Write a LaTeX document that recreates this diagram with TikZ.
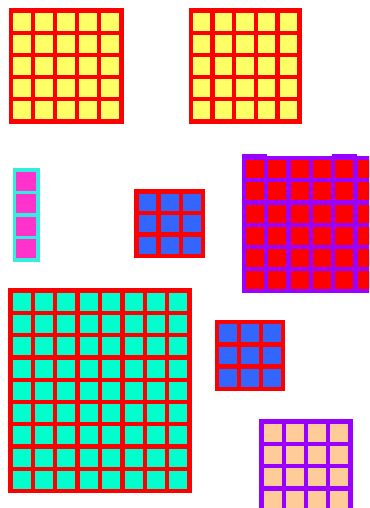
\documentclass[tikz,border=0pt]{standalone}
\definecolor{bred}{HTML}{FF0000}
\definecolor{cyel}{HTML}{FFFF66}
\definecolor{bcyan}{HTML}{33EEDD}
\definecolor{cpink}{HTML}{FF33CC}
\definecolor{cblue}{HTML}{3366FF}
\definecolor{bpurple}{HTML}{9900FF}
\definecolor{cred}{HTML}{FF0000}
\definecolor{caqua}{HTML}{00FFCC}
\definecolor{corange}{HTML}{FFCC99}
\newcommand{\cellgrid}[9]{% x0 y0 x1 y1 cols rows border fill gap
  \fill[#7] (#1,#2) rectangle (#3,#4);
  \pgfmathsetmacro\cw{((#3)-(#1)-(#9)*((#5)+1))/(#5)}
  \pgfmathsetmacro\ch{((#4)-(#2)-(#9)*((#6)+1))/(#6)}
  \foreach \i in {1,...,#5} {
    \foreach \j in {1,...,#6} {
      \fill[#8] ({#1+#9+(\i-1)*(\cw+#9)},{#2+#9+(\j-1)*(\ch+#9)}) rectangle ++(\cw,\ch);
    }
  }
}
\begin{document}
\begin{tikzpicture}[x=1pt,y=-1pt]
\useasboundingbox (0,0) rectangle (369,508);
\clip (0,0) rectangle (369,508);
\fill[white] (0,0) rectangle (369,508);
% top yellow grids
\cellgrid{8.5}{8.5}{123.5}{123.5}{5}{5}{bred}{cyel}{4.3}
\cellgrid{188.5}{8.5}{301.5}{123.5}{5}{5}{bred}{cyel}{4.3}
% pink column
\cellgrid{12.7}{168.3}{40}{261.7}{1}{4}{bcyan}{cpink}{3.7}
% blue 3x3
\cellgrid{134.3}{189.3}{205}{258.3}{3}{3}{bred}{cblue}{4.3}
% purple / red grid
\fill[bpurple] (242,154.3) rectangle (267,157);
\fill[bpurple] (332.3,154.3) rectangle (357,157);
\cellgrid{241.7}{156}{380}{293.3}{6}{6}{bpurple}{cred}{4.3}
% big aqua grid
\cellgrid{8.3}{288.3}{191.7}{493.3}{8}{9}{bred}{caqua}{4.3}
% second blue 3x3
\cellgrid{215}{320}{285}{391}{3}{3}{bred}{cblue}{4.3}
% orange grid
\cellgrid{259.3}{419.3}{352.7}{512.8}{4}{4}{bpurple}{corange}{4.3}
\end{tikzpicture}
\end{document}
